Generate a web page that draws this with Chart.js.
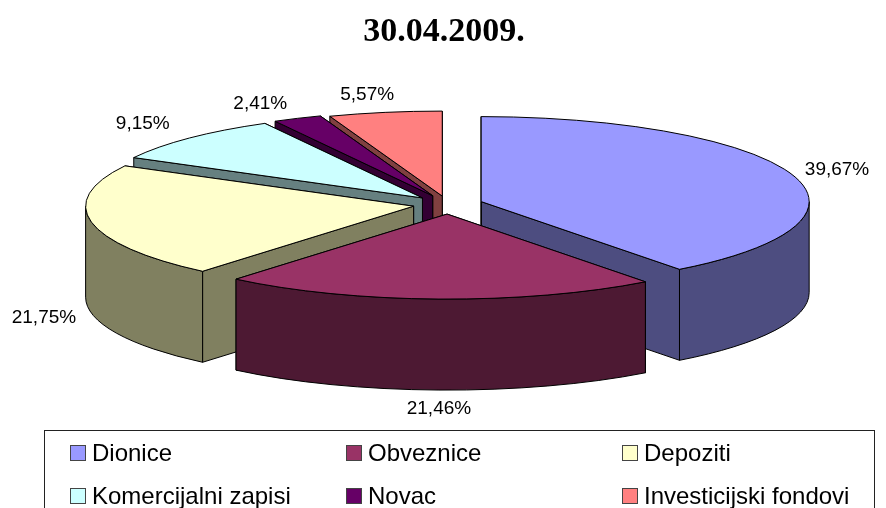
<!DOCTYPE html>
<html>
<head>
<meta charset="utf-8">
<script src="https://cdn.jsdelivr.net/npm/chart.js@4/dist/chart.umd.min.js"></script>
<style>
html,body{margin:0;padding:0;background:#fff;overflow:hidden}
#wrap{position:relative;width:886px;height:508px;overflow:hidden}
#legend{position:absolute;left:44px;top:430px;width:829px;height:100px;border:1px solid #222;font:24px "Liberation Sans",sans-serif;color:#000}
.item{position:absolute;white-space:nowrap;line-height:26px}
.item i{position:absolute;left:-22px;top:5px;width:14px;height:14px;border:1px solid #444}
</style>
</head>
<body>
<div id="wrap">
<canvas id="pie" width="886" height="508"></canvas>
<div id="legend"></div>
</div>
<script>
const categories=["Dionice","Obveznice","Depoziti","Komercijalni zapisi","Novac","Investicijski fondovi"]
const shares=[39.67,21.46,21.75,9.15,2.41,5.57]
const sliceColors=["#9999FF","#993366","#FFFFCC","#CCFFFF","#660066","#FF8080"]
const wallColors=["#4D4D80","#4D1933","#808060","#668080","#330033","#804040"]

/* explosion of each slice and fine shift of its label, px */
const explode=[35,37,35,36,37,33]
const labelNudge=[[45,-5],[0,19],[-47.5,5],[-47,-14],[-37,-15],[-18,-18]]

const tilt=85/328
const depth=91
const pieShiftX=4
const legendX=[47,323,599]
const legendY=[9,52]

const pie3d={
id:"pie3d",
beforeDatasetsDraw(chart){
const c=chart.ctx
const arcs=chart.getDatasetMeta(0).data
const slices=arcs.map((arc,i)=>{
const mid=(arc.startAngle+arc.endAngle)/2
return{
i,arc,mid,
rx:arc.outerRadius,
ry:arc.outerRadius*tilt,
x:arc.x+pieShiftX+Math.cos(mid)*explode[i],
y:arc.y+Math.sin(mid)*explode[i]*tilt
}
})
slices.sort((a,b)=>Math.sin(a.mid)-Math.sin(b.mid))
c.save()
c.lineWidth=1
c.strokeStyle="#000"
c.lineJoin="round"
slices.forEach(s=>{
const a0=s.arc.startAngle,a1=s.arc.endAngle
c.fillStyle=wallColors[s.i]
/* cut faces */
;[a1,a0].forEach(a=>{
const px=s.x+Math.cos(a)*s.rx,py=s.y+Math.sin(a)*s.ry
c.beginPath()
c.moveTo(s.x,s.y)
c.lineTo(px,py)
c.lineTo(px,py+depth)
c.lineTo(s.x,s.y+depth)
c.closePath()
c.fill()
c.stroke()
})
/* outer wall, only the part that faces front */
const from=Math.max(a0,0),to=Math.min(a1,Math.PI)
if(to>from){
c.beginPath()
c.ellipse(s.x,s.y,s.rx,s.ry,0,from,to)
c.ellipse(s.x,s.y+depth,s.rx,s.ry,0,to,from,true)
c.closePath()
c.fill()
c.stroke()
}
/* top */
c.fillStyle=s.arc.options.backgroundColor
c.beginPath()
c.moveTo(s.x,s.y)
c.ellipse(s.x,s.y,s.rx,s.ry,0,a0,a1)
c.closePath()
c.fill()
c.stroke()
})
/* value labels */
c.fillStyle="#000"
c.font='19px "Liberation Sans",sans-serif'
c.textAlign="center"
c.textBaseline="middle"
slices.forEach(s=>{
const front=Math.sin(s.mid)>0
const lx=s.x+Math.cos(s.mid)*s.rx+labelNudge[s.i][0]
const ly=s.y+Math.sin(s.mid)*s.ry+(front?depth:0)+labelNudge[s.i][1]
c.fillText(shares[s.i].toFixed(2).replace(".",",")+"%",lx,ly)
})
c.restore()
return false
}
}

const chart=new Chart(document.getElementById("pie"),{
type:"pie",
data:{
labels:categories,
datasets:[{
data:shares,
backgroundColor:sliceColors,
radius:328
}]
},
options:{
responsive:false,
animation:false,
events:[],
layout:{padding:{left:2,right:0,top:0,bottom:151.8}},
plugins:{
legend:{display:false},
tooltip:{enabled:false},
title:{
display:true,
text:"30.04.2009.",
color:"#000",
font:{family:'"Liberation Serif",serif',size:34,weight:"bold",lineHeight:1.2},
padding:{top:12,bottom:0}
}
}
},
plugins:[pie3d]
})

const legendBox=document.getElementById("legend")
categories.forEach((name,i)=>{
const el=document.createElement("div")
el.className="item"
el.style.left=legendX[i%3]+"px"
el.style.top=legendY[Math.floor(i/3)]+"px"
const box=document.createElement("i")
box.style.background=sliceColors[i]
el.appendChild(box)
el.appendChild(document.createTextNode(name))
legendBox.appendChild(el)
})
</script>
</body>
</html>
